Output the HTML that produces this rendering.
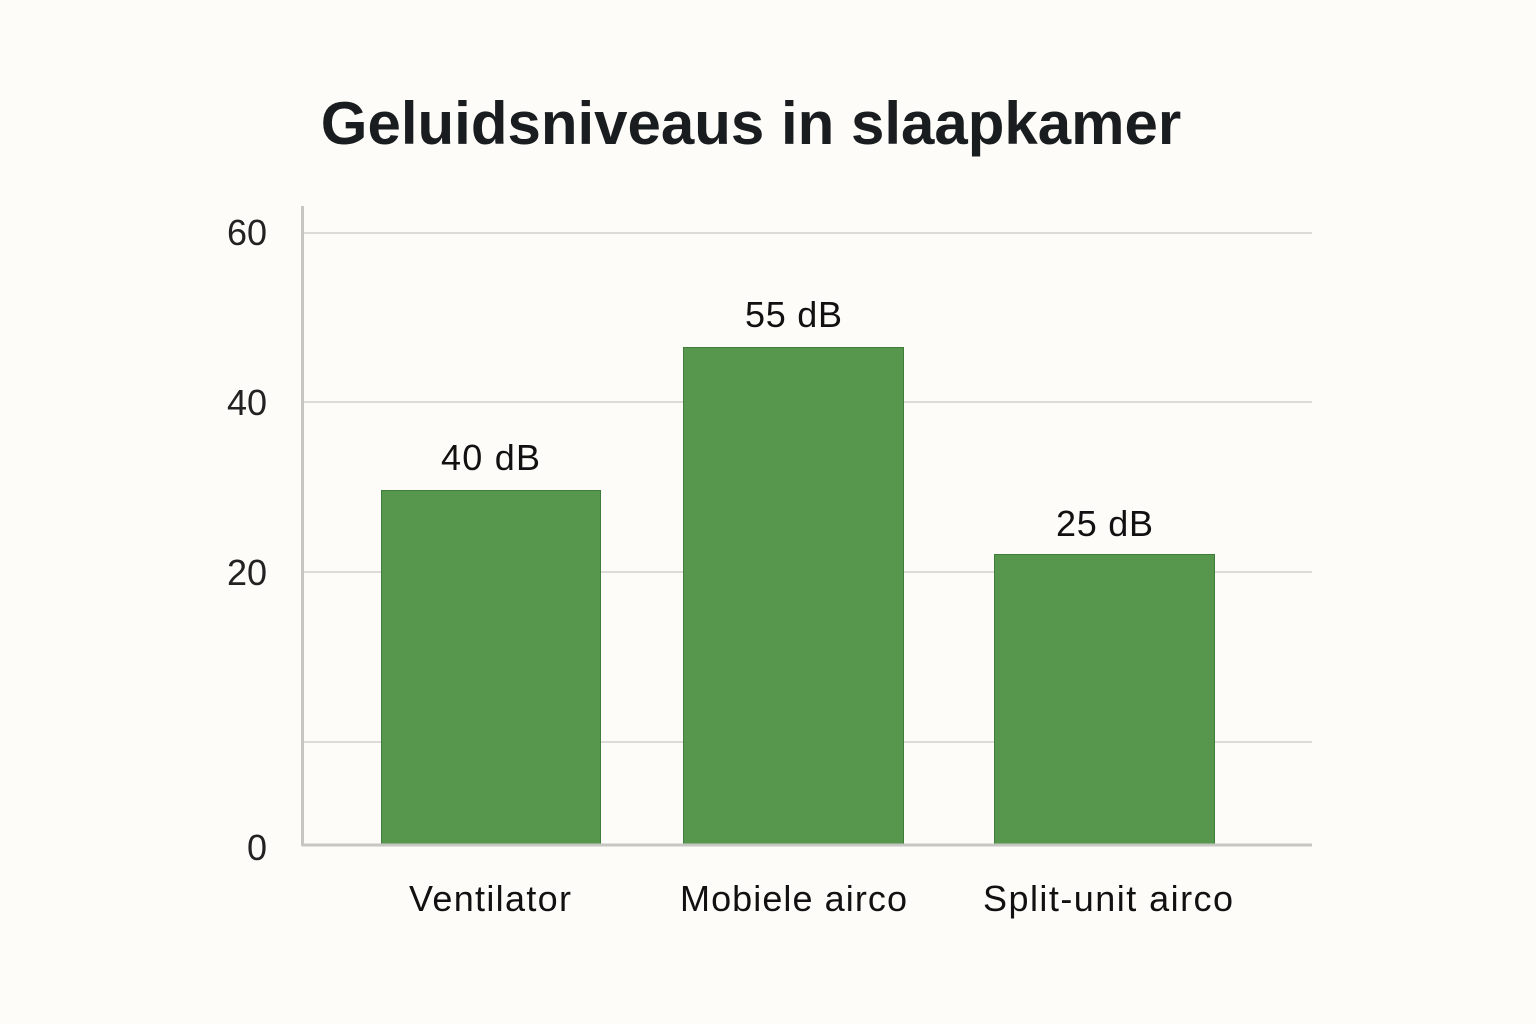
<!DOCTYPE html>
<html><head><meta charset="utf-8"><style>
html,body{margin:0;padding:0;background:#fdfcf8;}
svg{display:block;}
text{font-family:"Liberation Sans",sans-serif;}
</style></head><body>
<svg width="1536" height="1024" viewBox="0 0 1536 1024" xmlns="http://www.w3.org/2000/svg">
<rect width="1536" height="1024" fill="#fdfcf8"/>
<text x="751" y="144" text-anchor="middle" font-size="60" font-weight="bold" fill="#1a1d1f">Geluidsniveaus in slaapkamer</text>
<g stroke="#dcdcd7" stroke-width="2">
<line x1="304" y1="233" x2="1312" y2="233"/>
<line x1="304" y1="402" x2="1312" y2="402"/>
<line x1="304" y1="572" x2="1312" y2="572"/>
<line x1="304" y1="742" x2="1312" y2="742"/>
</g>
<line x1="302.5" y1="206" x2="302.5" y2="846" stroke="#c6c6c2" stroke-width="3"/>
<g fill="#56964d" stroke="#3f7d3a" stroke-width="1">
<rect x="381.5" y="490.5" width="219" height="354"/>
<rect x="683.5" y="347.5" width="220" height="497"/>
<rect x="994.5" y="554.5" width="220" height="290"/>
</g>
<line x1="302" y1="845" x2="1312" y2="845" stroke="#c6c6c2" stroke-width="3"/>
<g font-size="36" fill="#222" text-anchor="end">
<text x="267" y="245">60</text>
<text x="267" y="415">40</text>
<text x="267" y="585">20</text>
<text x="267" y="860">0</text>
</g>
<g font-size="36" fill="#111">
<text x="441" y="470" textLength="99">40 dB</text>
<text x="745" y="327" textLength="97">55 dB</text>
<text x="1056" y="536" textLength="97">25 dB</text>
<text x="409" y="911" textLength="162">Ventilator</text>
<text x="680" y="911" textLength="227">Mobiele airco</text>
<text x="983" y="911" textLength="250">Split-unit airco</text>
</g>
</svg>
</body></html>
